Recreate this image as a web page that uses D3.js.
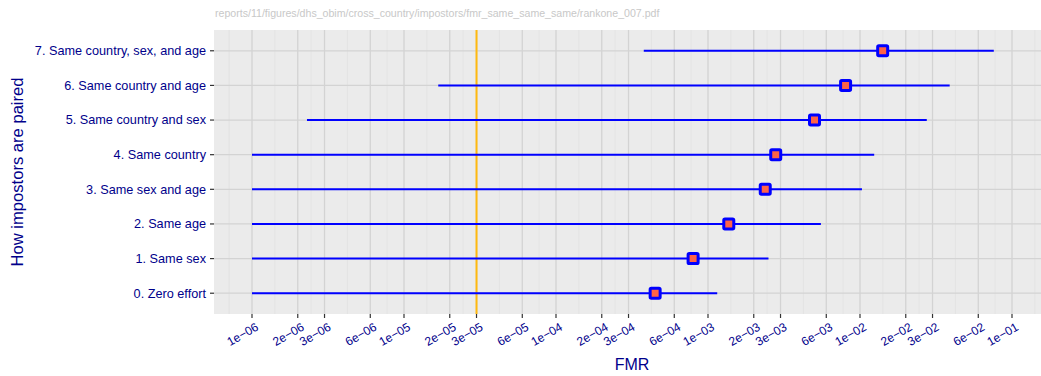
<!DOCTYPE html>
<html>
<head>
<meta charset="utf-8">
<script src="https://cdn.jsdelivr.net/npm/d3@7"></script>
<style>
  html, body { margin: 0; padding: 0; background: #fff; }
  svg { display: block; font-family: "Liberation Sans", Arial, Helvetica, sans-serif; }
</style>
</head>
<body>
<script>
// ---- data ----
const categories = [
  "0. Zero effort",
  "1. Same sex",
  "2. Same age",
  "3. Same sex and age",
  "4. Same country",
  "5. Same country and sex",
  "6. Same country and age",
  "7. Same country, sex, and age"
];
const fmrLow  = [1e-6, 1e-6, 1e-6, 1e-6, 1e-6, 2.3e-6, 1.68e-5, 3.78e-4];
const fmrHigh = [0.00115, 0.0025, 0.00553, 0.0103, 0.0124, 0.0275, 0.0389, 0.0759];
const fmrPoint = [4.49e-4, 7.98e-4, 0.00137, 0.00238, 0.00279, 0.00502, 0.00804, 0.0141];
const tickValues = [1e-6, 2e-6, 3e-6, 6e-6, 1e-5, 2e-5, 3e-5, 6e-5, 1e-4, 2e-4, 3e-4, 6e-4,
                    1e-3, 2e-3, 3e-3, 6e-3, 1e-2, 2e-2, 3e-2, 6e-2, 1e-1];
const tickLabels = ["1e\u221206","2e\u221206","3e\u221206","6e\u221206","1e\u221205","2e\u221205","3e\u221205","6e\u221205",
                    "1e\u221204","2e\u221204","3e\u221204","6e\u221204","1e\u221203","2e\u221203","3e\u221203","6e\u221203",
                    "1e\u221202","2e\u221202","3e\u221202","6e\u221202","1e\u221201"];
const refLine = [3e-5];
const caption = "reports/11/figures/dhs_obim/cross_country/impostors/fmr_same_same_same/rankone_007.pdf";

// ---- layout ----
const W = 1041, H = 376;
const panel = { left: 214, right: 1050, top: 30, bottom: 314 };
const textBlue = "#00008B";

const svg = d3.select("body").append("svg").attr("width", W).attr("height", H);

// log x scale with ggplot-like 5% expansion of [1e-6, 1e-1]
const lo = -6, hi = -1, ex = (hi - lo) * 0.05;
const x = d3.scaleLog()
  .domain([Math.pow(10, lo - ex), Math.pow(10, hi + ex)])
  .range([panel.left, panel.right]);

// discrete y with 0.6 expansion
const n = categories.length;
const unit = (panel.bottom - panel.top) / (n - 1 + 1.2);
const y = d3.scalePoint()
  .domain(categories)
  .range([panel.bottom - 0.6 * unit, panel.top + 0.6 * unit]);

svg.append("clipPath").attr("id", "pclip")
  .append("rect").attr("x", panel.left).attr("y", panel.top)
  .attr("width", panel.right - panel.left).attr("height", panel.bottom - panel.top);

const g = svg.append("g").attr("clip-path", "url(#pclip)");
g.append("rect")
  .attr("x", panel.left).attr("y", panel.top)
  .attr("width", panel.right - panel.left).attr("height", panel.bottom - panel.top)
  .attr("fill", "#EBEBEB");

// minor grid (midpoints in log space, extended by first break spacing)
const lb = tickValues.map(v => Math.log10(v));
const bd = lb[1] - lb[0];
const ext = [lb[0] - bd, ...lb, lb[lb.length - 1] + bd];
const minor = [];
for (let i = 0; i < ext.length - 1; i++) minor.push(Math.pow(10, (ext[i] + ext[i + 1]) / 2));
g.selectAll("line.minor").data(minor).enter().append("line")
  .attr("x1", d => x(d)).attr("x2", d => x(d))
  .attr("y1", panel.top).attr("y2", panel.bottom)
  .attr("stroke", "#E0E0E0").attr("stroke-width", 0.7);

// major grid
g.selectAll("line.majx").data(tickValues).enter().append("line")
  .attr("x1", d => x(d)).attr("x2", d => x(d))
  .attr("y1", panel.top).attr("y2", panel.bottom)
  .attr("stroke", "#D3D3D3").attr("stroke-width", 1.3);
g.selectAll("line.majy").data(categories).enter().append("line")
  .attr("x1", panel.left).attr("x2", panel.right)
  .attr("y1", d => y(d)).attr("y2", d => y(d))
  .attr("stroke", "#D3D3D3").attr("stroke-width", 1.3);

// reference line
g.selectAll("line.ref").data(refLine).enter().append("line")
  .attr("x1", d => x(d)).attr("x2", d => x(d))
  .attr("y1", panel.top).attr("y2", panel.bottom)
  .attr("stroke", "#FFB90F").attr("stroke-width", 2);

// ranges
g.selectAll("line.rng").data(categories).enter().append("line")
  .attr("x1", (d, i) => x(fmrLow[i])).attr("x2", (d, i) => x(fmrHigh[i]))
  .attr("y1", d => y(d)).attr("y2", d => y(d))
  .attr("stroke", "#0000FF").attr("stroke-width", 2);

// points
const s = 10;
g.selectAll("rect.pt").data(categories).enter().append("rect")
  .attr("x", (d, i) => x(fmrPoint[i]) - s / 2).attr("y", d => y(d) - s / 2)
  .attr("width", s).attr("height", s).attr("rx", 1.2)
  .attr("fill", "#FF6347").attr("stroke", "#0000FF").attr("stroke-width", 3);

// x axis ticks & labels
const xa = svg.append("g");
xa.selectAll("line").data(tickValues).enter().append("line")
  .attr("x1", d => x(d)).attr("x2", d => x(d))
  .attr("y1", panel.bottom).attr("y2", panel.bottom + 4)
  .attr("stroke", "#333").attr("stroke-width", 1.2);
xa.selectAll("text").data(tickValues).enter().append("text")
  .attr("transform", d => `translate(${x(d) + 3},${panel.bottom + 8}) rotate(-30)`)
  .attr("text-anchor", "end").attr("dy", "0.71em")
  .attr("font-size", 12).attr("fill", textBlue)
  .text((d, i) => tickLabels[i]);

// y axis ticks & labels
const ya = svg.append("g");
ya.selectAll("line").data(categories).enter().append("line")
  .attr("x1", panel.left - 4).attr("x2", panel.left)
  .attr("y1", d => y(d)).attr("y2", d => y(d))
  .attr("stroke", "#333").attr("stroke-width", 1.2);
ya.selectAll("text").data(categories).enter().append("text")
  .attr("x", panel.left - 8).attr("y", d => y(d))
  .attr("dy", "0.35em").attr("text-anchor", "end")
  .attr("font-size", 12.7).attr("fill", textBlue)
  .text(d => d);

// axis titles
svg.append("text")
  .attr("x", (panel.left + panel.right) / 2).attr("y", 370)
  .attr("text-anchor", "middle").attr("font-size", 16).attr("fill", textBlue)
  .text("FMR");
svg.append("text")
  .attr("transform", `translate(23,${(panel.top + panel.bottom) / 2}) rotate(-90)`)
  .attr("text-anchor", "middle").attr("font-size", 16.6).attr("fill", textBlue)
  .text("How impostors are paired");

// caption
svg.append("text")
  .attr("x", 215).attr("y", 17)
  .attr("font-size", 10.6).attr("fill", "#C8C8C8")
  .text(caption);
</script>
</body>
</html>
